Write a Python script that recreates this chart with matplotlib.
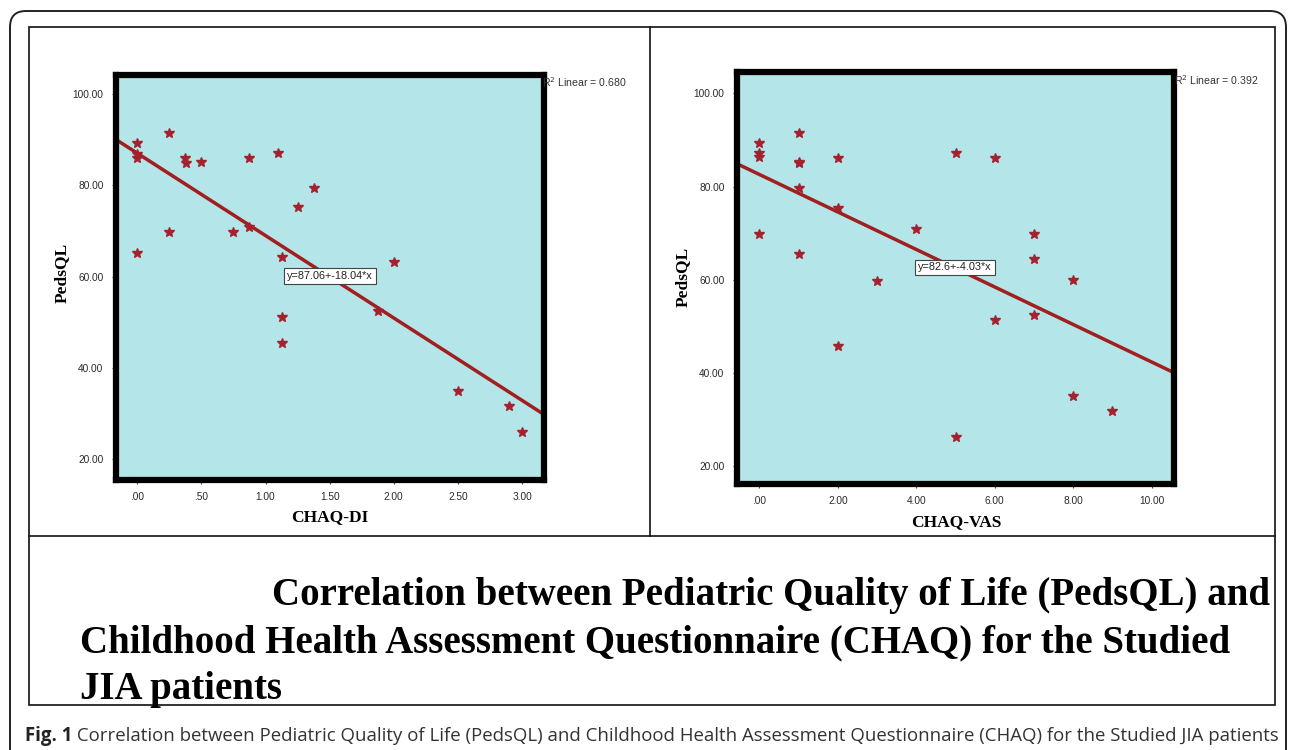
import numpy as np
import matplotlib
matplotlib.use("Agg")
from matplotlib import pyplot as plt
from matplotlib.patches import FancyBboxPatch, Rectangle

# left panel: CHAQ-DI vs PedsQL
chaq_di = [0, 0, 0, 0, 0.25, 0.25, 0.375, 0.38, 0.5, 0.75, 0.875, 0.875,
           1.1, 1.125, 1.125, 1.13, 1.25, 1.375, 1.875, 2.0, 2.5, 2.9, 3.0]
pedsql_di = [89.3, 86.9, 86.0, 65.3, 91.5, 69.7, 86.0, 84.9, 85.1, 69.7, 86.0, 70.9,
             87.1, 64.3, 51.2, 45.6, 75.2, 79.5, 52.4, 63.2, 34.9, 31.6, 26.1]
fit_di = [87.06, -18.04]   # intercept, slope
r2_di = 0.680
xticks_di = [0, 0.5, 1.0, 1.5, 2.0, 2.5, 3.0]
xlabels_di = [".00", ".50", "1.00", "1.50", "2.00", "2.50", "3.00"]

# right panel: CHAQ-VAS vs PedsQL
chaq_vas = [0, 0, 0, 0, 1, 1, 1, 1, 1, 2, 2, 2, 3, 4, 5, 5, 6, 6, 7, 7, 7, 8, 8, 9]
pedsql_vas = [89.4, 87.1, 86.3, 69.8, 91.5, 85.3, 85.0, 79.6, 65.5, 86.2, 75.3, 45.8,
              59.8, 70.9, 87.3, 26.3, 86.1, 51.3, 69.9, 64.4, 52.4, 60.0, 35.0, 31.8]
fit_vas = [82.6, -4.03]
r2_vas = 0.392
xticks_vas = [0, 2, 4, 6, 8, 10]
xlabels_vas = [".00", "2.00", "4.00", "6.00", "8.00", "10.00"]

yticks = [20, 40, 60, 80, 100]
ylabels = ["20.00", "40.00", "60.00", "80.00", "100.00"]

title_lines = ["Correlation between Pediatric Quality of Life (PedsQL) and",
               "Childhood Health Assessment Questionnaire (CHAQ) for the Studied",
               "JIA patients"]
caption_bold = "Fig. 1"
caption_rest = (" Correlation between Pediatric Quality of Life (PedsQL) and Childhood Health "
                "Assessment Questionnaire (CHAQ) for the Studied JIA patients")

W, H = 1292, 750
fig = plt.figure(figsize=(W / 100, H / 100), dpi=100)

# background axes in pixel coords for frames and free text
bg = fig.add_axes([0, 0, 1, 1])
bg.set_xlim(0, W)
bg.set_ylim(H, 0)
bg.axis("off")
bg.add_patch(FancyBboxPatch((10, 11), 1276, 780, boxstyle="round,pad=0,rounding_size=16",
                            fill=False, ec="#222222", lw=1.4))
bg.add_patch(Rectangle((29, 27), 1246, 678, fill=False, ec="#111111", lw=1.2))
bg.plot([650, 650], [27, 536], color="#111111", lw=1.2)
bg.plot([29, 1275], [536, 536], color="#111111", lw=1.2)

serif = "Liberation Serif"
sans = "Liberation Sans"
cyan = "#B4E5E8"
star_c = "#A3222E"
line_c = "#A21F1F"


def px_axes(x0, y0, x1, y1):
    return fig.add_axes([x0 / W, 1 - y1 / H, (x1 - x0) / W, (y1 - y0) / H])


def panel(ax, x, y, fit, xlim, ylim, xt, xl):
    ax.set_facecolor(cyan)
    ax.set_xlim(*xlim)
    ax.set_ylim(*ylim)
    ax.plot(x, y, linestyle="none", marker="*", ms=7.5, color=star_c, mec=star_c, zorder=3)
    xs = np.array(ax.get_xlim())
    ax.plot(xs, fit[0] + fit[1] * xs, color=line_c, lw=2.5, zorder=2, solid_capstyle="butt")
    for s in ax.spines.values():
        s.set_linewidth(4.5)
        s.set_color("black")
        s.set_zorder(5)
    ax.set_xticks(xt)
    ax.set_xticklabels(xl)
    ax.set_yticks(yticks)
    ax.set_yticklabels(ylabels)
    ax.tick_params(direction="out", length=3, width=0.8, color="#444444", pad=6,
                   labelsize=7.3, labelcolor="#2a2a2a")
    for t in ax.get_xticklabels() + ax.get_yticklabels():
        t.set_fontfamily(sans)


ax1 = px_axes(116, 74.5, 543.5, 479.5)
panel(ax1, chaq_di, pedsql_di, fit_di, (-0.166, 3.168), (15.6, 104.3), xticks_di, xlabels_di)
ax2 = px_axes(737, 72, 1174, 484)
panel(ax2, chaq_vas, pedsql_vas, fit_vas, (-0.568, 10.568), (16.1, 104.6), xticks_vas, xlabels_vas)

# overlay axes so labels sit above the panels
top = fig.add_axes([0, 0, 1, 1], facecolor="none")
top.set_xlim(0, W)
top.set_ylim(H, 0)
top.axis("off")

# axis titles
top.text(330, 517, "CHAQ-DI", family=serif, weight="bold", fontsize=12.5, ha="center", va="center")
top.text(956, 522, "CHAQ-VAS", family=serif, weight="bold", fontsize=12.5, ha="center", va="center")
top.text(62, 273, "PedsQL", family=serif, weight="bold", fontsize=12.5, rotation=90,
         ha="center", va="center")
top.text(683, 277, "PedsQL", family=serif, weight="bold", fontsize=12.5, rotation=90,
         ha="center", va="center")

# fit equations and R2 labels
box = dict(boxstyle="square,pad=0.25", fc="white", ec="#444444", lw=0.8)
top.text(330, 276, "y=%.2f+%.2f*x" % (fit_di[0], fit_di[1]), family=sans, fontsize=7.8,
         color="#222222", ha="center", va="center", bbox=box)
top.text(955, 267.5, "y=%.1f+%.2f*x" % (fit_vas[0], fit_vas[1]), family=sans, fontsize=7.8,
         color="#222222", ha="center", va="center", bbox=box)
top.text(542, 82, r"R$^2$ Linear = %.3f" % r2_di, family=sans, fontsize=7.6, color="#333333",
         ha="left", va="center")
top.text(1174, 80, r"R$^2$ Linear = %.3f" % r2_vas, family=sans, fontsize=7.6, color="#333333",
         ha="left", va="center")

# big title inside the table
top.text(1270, 605, title_lines[0], family=serif, weight="bold", fontsize=28, ha="right", va="baseline")
top.text(80, 652, title_lines[1], family=serif, weight="bold", fontsize=28, ha="left", va="baseline")
top.text(80, 699, title_lines[2], family=serif, weight="bold", fontsize=28, ha="left", va="baseline")

# figure caption
r = fig.canvas.get_renderer()
t1 = top.text(25, 741, caption_bold, family="Open Sans", weight="bold", fontsize=13.4,
              color="#222222", ha="left", va="baseline")
ext = t1.get_window_extent(renderer=r)
top.text(25 + ext.width, 741, caption_rest, family="Open Sans", fontsize=13.4,
         color="#333333", ha="left", va="baseline")

fig.savefig("out.png", dpi=100)
